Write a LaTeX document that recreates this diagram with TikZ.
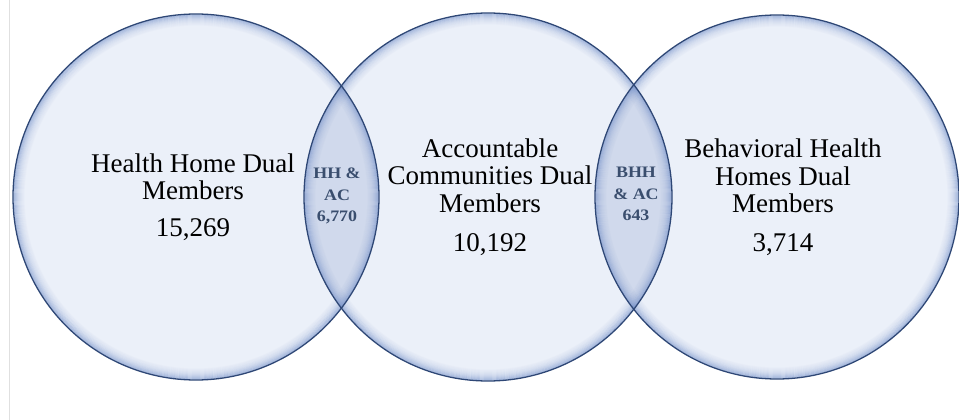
\documentclass[tikz,border=0pt]{standalone}
\usepackage{fontspec}
\setmainfont{Liberation Serif}
\definecolor{circfill}{HTML}{EBF0F9}
\definecolor{lensfill}{HTML}{D0D9EC}
\definecolor{edgeblue}{HTML}{2E4776}
\definecolor{glowblue}{HTML}{6E8BC6}
\definecolor{lenstext}{HTML}{3A4E6E}
\tikzset{
  setfill/.style={fill=circfill},
  setedge/.style={draw=edgeblue, line width=1.3pt},
  setlabel/.style={anchor=north, inner sep=0pt, align=center, text=black,
    font=\fontsize{27}{27.7}\selectfont},
  lenslabel/.style={anchor=north, inner sep=0pt, align=center, text=lenstext,
    font=\fontsize{16}{21.5}\selectfont\bfseries, xscale=1.12},
}
\begin{document}
\begin{tikzpicture}[x=1pt,y=-1pt]
\useasboundingbox (0,0) rectangle (959,420);
\fill[white] (0,0) rectangle (959,420);
\draw[black!12, line width=1.2pt] (9.5,0) -- (9.5,420);

\coordinate (c1) at (196,197);
\coordinate (c2) at (488,197);
\coordinate (c3) at (777,197);
\def\ra{183}
\def\rb{184}
\def\rc{182}

% fills
\fill[setfill] (c1) circle[radius=\ra];
\fill[setfill] (c2) circle[radius=\rb];
\fill[setfill] (c3) circle[radius=\rc];

% overlaps
\begin{scope}
  \clip (c1) circle[radius=\ra];
  \fill[lensfill] (c2) circle[radius=\rb];
\end{scope}
\begin{scope}
  \clip (c2) circle[radius=\rb];
  \fill[lensfill] (c3) circle[radius=\rc];
\end{scope}

% inner glow
\foreach \k/\o in {1/0.5,2/0.42,3/0.35,4/0.28,5/0.22,6/0.17,7/0.13,8/0.1,9/0.07,10/0.05,11/0.03}{
  \draw[glowblue, opacity=\o, line width=1.1pt] (c1) circle[radius=\ra-\k];
  \draw[glowblue, opacity=\o, line width=1.1pt] (c2) circle[radius=\rb-\k];
  \draw[glowblue, opacity=\o, line width=1.1pt] (c3) circle[radius=\rc-\k];
}

% edges
\draw[setedge] (c1) circle[radius=\ra];
\draw[setedge] (c2) circle[radius=\rb];
\draw[setedge] (c3) circle[radius=\rc];

% labels
\node[setlabel] (t1) at (193,153.3) {Health Home Dual\\Members\\[9.3pt]15,269};
\node[setlabel] (t2) at (490,138.3) {Accountable\\Communities Dual\\Members\\[10.8pt]10,192};
\node[setlabel] (t3) at (783,138.6) {Behavioral Health\\Homes Dual\\Members\\[10.8pt]3,714};

\node[lenslabel] (l1) at (337,168) {HH \&\\AC\\6,770};
\node[lenslabel] (l2) at (636,167) {BHH\\\& AC\\643};
\end{tikzpicture}
\end{document}
